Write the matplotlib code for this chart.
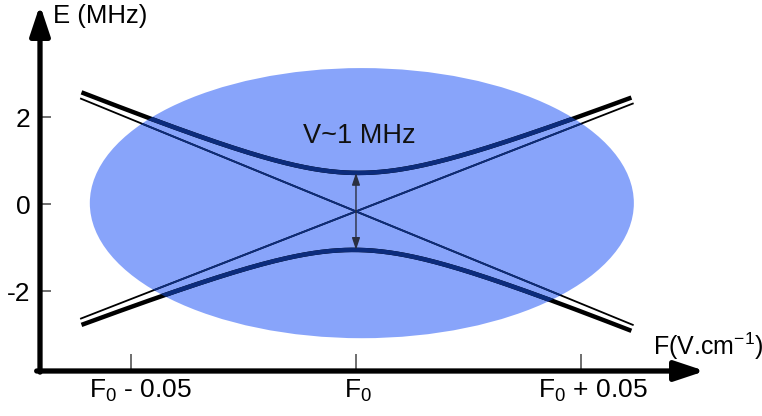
import numpy as np
import matplotlib
matplotlib.use("Agg")
import matplotlib.pyplot as plt
from matplotlib.patches import Ellipse
from matplotlib.transforms import ScaledTranslation

plt.rcParams['font.family'] = ['Liberation Sans', 'DejaVu Sans']
plt.rcParams['mathtext.default'] = 'regular'

# ---- data ----
x_ticks = [-0.05, 0.0, 0.05]
x_tick_labels = ['F$_0$ - 0.05', 'F$_0$', 'F$_0$ + 0.05']
y_ticks = [-2, 0, 2]
y_tick_labels = ['-2', '0', '2']
slope_up = 40.3       # MHz per V/cm (rising diabatic line)
slope_down = 42.4     # MHz per V/cm (falling diabatic line)
half_gap = 0.885      # MHz (half of the avoided-crossing gap)
center_E = -0.17      # MHz (energy of the crossing)
line_range = [-0.0613, 0.0617]   # field offsets of the diabatic lines
curve_range = [-0.0610, 0.0612]  # field offsets of the adiabatic curves
ellipse_center = [0.0013, 0.02]
ellipse_size = [0.1209, 6.21]
label_gap = 'V~1 MHz'

fig = plt.figure(figsize=(7.62, 4.16), dpi=100)
ax = fig.add_axes([40/762, 45/416, 665/762, 366/416])
ax.set_xlim(-0.07022, 0.07756)
ax.set_ylim(-3.839, 4.575)
for s in ax.spines.values():
    s.set_visible(False)

ell = Ellipse(ellipse_center, ellipse_size[0], ellipse_size[1],
              facecolor='#88a4fa', edgecolor='none', zorder=1)
ax.add_patch(ell)

xl = np.linspace(line_range[0], line_range[1], 200)
xc = np.linspace(curve_range[0], curve_range[1], 400)
line_up = center_E + slope_up * xl
line_dn = center_E - slope_down * xl
e1 = center_E + slope_up * xc
e2 = center_E - slope_down * xc
mean = (e1 + e2) / 2
half = np.sqrt(((e1 - e2) / 2) ** 2 + half_gap ** 2)
curve_up = mean + half
curve_dn = mean - half

navy = '#0c2c7c'
for col, z, clip in [('black', 2, False), (navy, 3, True)]:
    arts = []
    arts += ax.plot(xl, line_up, color=col, lw=1.3, zorder=z, solid_capstyle='butt')
    arts += ax.plot(xl, line_dn, color=col, lw=1.3, zorder=z, solid_capstyle='butt')
    arts += ax.plot(xc, curve_up, color=col, lw=3.2, zorder=z, solid_capstyle='butt')
    arts += ax.plot(xc, curve_dn, color=col, lw=3.2, zorder=z, solid_capstyle='butt')
    if clip:
        for a in arts:
            a.set_clip_path(ell)

# gap arrow
e_top = center_E + half_gap
e_bot = center_E - half_gap
ax.annotate('', xy=(0, e_top), xytext=(0, e_bot),
            arrowprops=dict(arrowstyle='<|-|>,head_length=0.6,head_width=0.2',
                            mutation_scale=12, color='#2a2f40', lw=1.0,
                            shrinkA=0, shrinkB=0), zorder=4)
ax.text(0.0007, 1.57, label_gap, ha='center', va='center', fontsize=19.5,
        color='#111111', zorder=5)

# ticks
ax.set_xticks(x_ticks)
ax.set_xticklabels(x_tick_labels, fontsize=19)
ax.set_yticks(y_ticks)
ax.set_yticklabels(y_tick_labels, fontsize=19)
ax.tick_params(axis='x', direction='in', length=12.5, width=1.2, color='#555555', pad=5)
ax.tick_params(axis='y', direction='in', length=8, width=1.2, color='#555555', pad=7)
for lab, dx in zip(ax.get_xticklabels(), [10, 2, 12]):
    lab.set_transform(lab.get_transform() + ScaledTranslation(dx / 100, 0, fig.dpi_scale_trans))

# axis arrows
ax.annotate('', xy=(0, 1.0), xytext=(0, -0.003), xycoords='axes fraction',
            arrowprops=dict(arrowstyle='-|>,head_length=0.75,head_width=0.25',
                            mutation_scale=24, color='black', lw=3.8,
                            shrinkA=0, shrinkB=0), annotation_clip=False)
ax.annotate('', xy=(1.0, 0), xytext=(-0.005, 0), xycoords='axes fraction',
            arrowprops=dict(arrowstyle='-|>,head_length=0.75,head_width=0.25',
                            mutation_scale=24, color='black', lw=3.8,
                            shrinkA=0, shrinkB=0), annotation_clip=False)

fig.text(53/762, 1 - 16/416, 'E (MHz)', fontsize=18.5, va='center', ha='left')
fig.text(653/762, 1 - 355/416, 'F(V.cm$^{-1}$)', fontsize=18, va='baseline', ha='left')

fig.savefig('out.png', dpi=100)
